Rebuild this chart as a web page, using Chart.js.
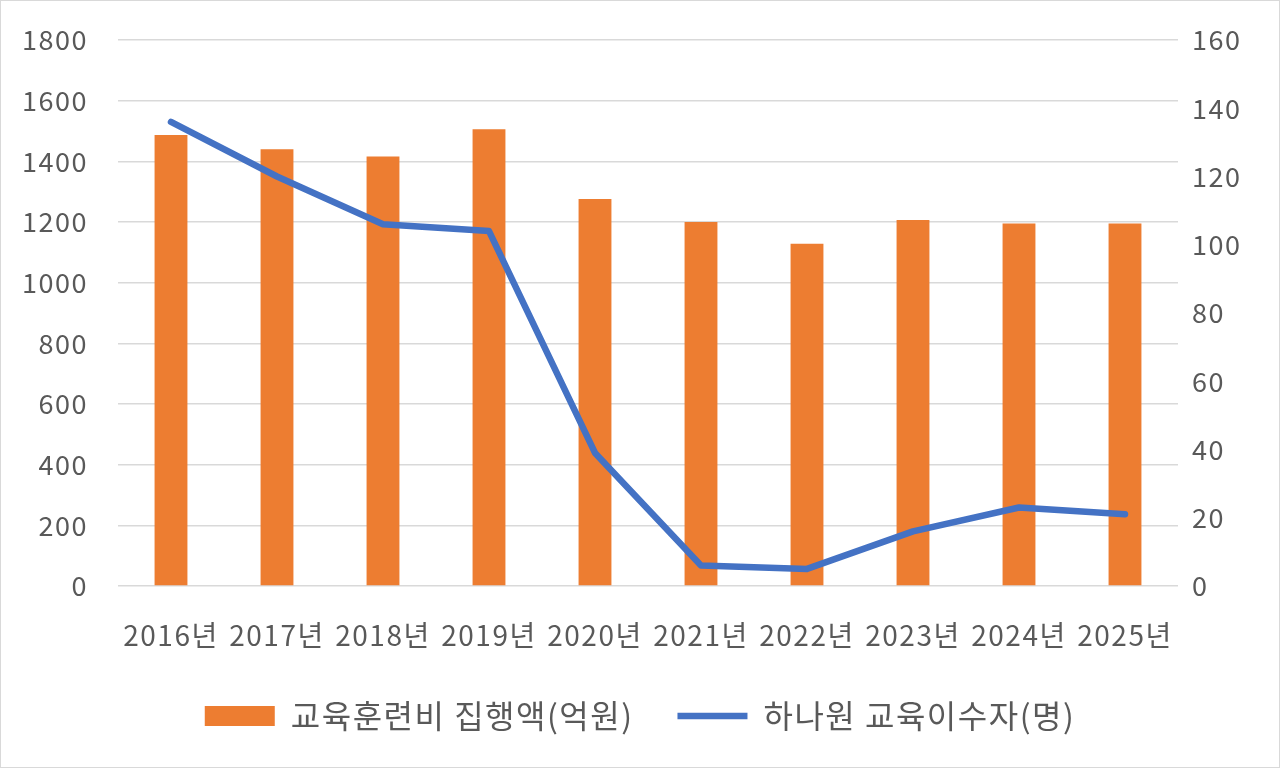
<!DOCTYPE html>
<html>
<head>
<meta charset="utf-8">
<script src="https://cdn.jsdelivr.net/npm/chart.js@4"></script>
<style>
  body { margin: 0; background: #fff; }
  #wrap { width: 1280px; height: 768px; box-sizing: border-box; border: 1px solid #d9d9d9; }
  canvas { display: block; }
</style>
</head>
<body>
<div id="wrap"><canvas id="chart" width="1278" height="766"></canvas></div>
<script>
// 데이터
const years = ["2016년", "2017년", "2018년", "2019년", "2020년", "2021년", "2022년", "2023년", "2024년", "2025년"];
const budget = [1487, 1440, 1416, 1506, 1276, 1200, 1128, 1207, 1195, 1195];   // 교육훈련비 집행액(억원)
const trainees = [136, 120, 106, 104, 39, 6, 5, 16, 23, 21];                    // 하나원 교육이수자(명)

const orange = "#ED7D31";
const blue = "#4472C4";
const textColor = "#595959";
const family = "'Noto Sans CJK KR', 'Noto Sans', sans-serif";
const yFont = { family: family, size: 27 };
const xFont = { family: family, size: 28 };
const legendFont = { family: family, size: 32 };

Chart.defaults.color = textColor;
Chart.defaults.font = xFont;

// 맑은 고딕처럼 글자 간격을 조금 넓힘
const letterSpacing = {
    id: "letterSpacing",
    beforeUpdate: chart => { chart.ctx.letterSpacing = "1.5px"; },
    beforeDraw: chart => { chart.ctx.letterSpacing = "1.5px"; },
};

new Chart(document.getElementById("chart").getContext("2d"), {
    type: "bar",
    data: {
        labels: years,
        datasets: [{
            label: "교육훈련비 집행액(억원)",
            data: budget,
            backgroundColor: orange,
            borderWidth: 0,
            yAxisID: "y",
            order: 1,
            categoryPercentage: 1,
            barPercentage: 0.31,
            pointStyle: "rect",
        }, {
            type: "line",
            label: "하나원 교육이수자(명)",
            data: trainees,
            borderColor: blue,
            backgroundColor: blue,
            borderWidth: 6.5,
            borderCapStyle: "round",
            borderJoinStyle: "round",
            pointRadius: 0,
            tension: 0,
            yAxisID: "y1",
            order: 0,
            pointStyle: "line",
        }],
    },
    options: {
        responsive: false,
        animation: false,
        layout: { padding: { top: 39, bottom: 25, left: 0, right: 0 } },
        scales: {
            x: {
                grid: { display: false, drawTicks: false },
                border: { display: false },
                ticks: { padding: 33, font: xFont, color: textColor, maxRotation: 0, autoSkip: false },
                afterFit: s => { s.height = 70; },
            },
            y: {
                position: "left",
                min: 0,
                max: 1800,
                ticks: { stepSize: 200, padding: 30, font: yFont, color: textColor, callback: v => String(v) },
                grid: { color: "#d9d9d9", lineWidth: 1.5, drawTicks: false },
                border: { display: false },
                afterFit: s => { s.width = 117; s.paddingTop = 0; s.paddingBottom = 0; },
            },
            y1: {
                position: "right",
                min: 0,
                max: 160,
                ticks: { stepSize: 20, padding: 14, font: yFont, color: textColor, callback: v => String(v) },
                grid: { display: false, drawTicks: false },
                border: { display: false },
                afterFit: s => { s.width = 101; s.paddingTop = 0; s.paddingBottom = 0; },
            },
        },
        plugins: {
            tooltip: { enabled: false },
            legend: {
                position: "bottom",
                labels: {
                    usePointStyle: true,
                    pointStyleWidth: 70,
                    boxHeight: 20,
                    padding: 44,
                    font: legendFont,
                    color: textColor,
                    sort: (a, b) => a.datasetIndex - b.datasetIndex,
                },
            },
        },
    },
    plugins: [letterSpacing],
});
</script>
</body>
</html>
